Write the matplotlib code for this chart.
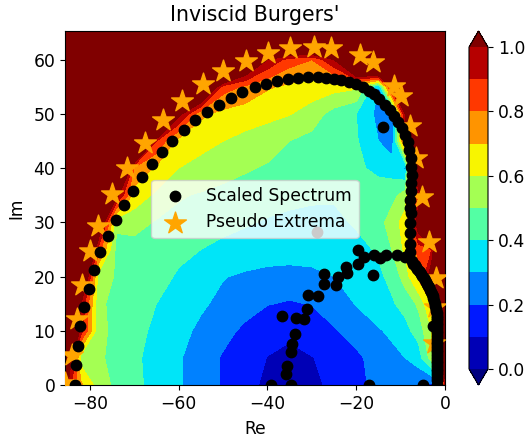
import matplotlib
matplotlib.use("Agg")
import matplotlib.pyplot as plt
import numpy as np

# field nodes
grid_re = [-86, -82, -78, -74, -70, -65, -60, -55, -50, -45, -40, -35, -30, -25, -20, -15, -12, -9, -6, -3, 0]
grid_im = [0, 5, 10, 15, 20, 25, 30, 35, 40, 45, 50, 55, 60, 66]
field = [
    [1.1, .72, .55, .475, .425, .365, .31, .25, .19, .13, .08, .07, .08, .12, .18, .22, .24, .23, .21, .17, .9],
    [1.4, .55, .52, .46, .42, .36, .31, .25, .19, .135, .098, .08, .097, .125, .18, .24, .27, .30, .35, .55, 1.3],
    [1.6, .95, .53, .47, .43, .38, .33, .28, .23, .18, .125, .115, .145, .19, .24, .29, .32, .37, .44, .6, 1.4],
    [1.7, 1.0, .52, .47, .44, .40, .36, .315, .275, .24, .205, .19, .205, .25, .305, .36, .39, .43, .52, .7, 1.5],
    [1.8, 1.3, .55, .49, .46, .43, .39, .345, .305, .285, .27, .265, .275, .30, .345, .385, .42, .55, .72, 1.1, 1.6],
    [1.9, 1.6, .85, .47, .46, .445, .42, .40, .375, .36, .35, .345, .345, .355, .375, .41, .5, .62, .85, .9, 1.7],
    [2, 1.8, 1.2, .52, .54, .49, .47, .45, .43, .41, .39, .375, .365, .38, .41, .46, .55, .64, 1.1, 1.5, 1.8],
    [2, 2, 1.9, 1.05, .66, .58, .51, .49, .47, .46, .445, .43, .42, .41, .41, .44, .46, .55, .9, 1.6, 1.9],
    [2, 2, 2, 1.8, .78, .68, .6, .57, .54, .51, .49, .47, .45, .43, .415, .38, .36, .28, 1.3, 2, 2],
    [2, 2, 2, 2, 1.9, .9, .66, .63, .6, .57, .54, .5, .47, .44, .41, .3, .23, .85, 2, 2, 2],
    [2, 2, 2, 2, 2, 2, 1.05, .72, .67, .65, .63, .605, .55, .46, .4, .27, .22, 1.0, 2, 2, 2],
    [2, 2, 2, 2, 2, 2, 2, 1.4, .85, .78, .71, .68, .66, .64, .62, .3, 1.0, 2, 2, 2, 2],
    [2, 2, 2, 2, 2, 2, 2, 2, 2, 1.3, 1.0, .85, .8, 1.0, 1.6, 2, 2, 2, 2, 2, 2],
    [2, 2, 2, 2, 2, 2, 2, 2, 2, 2, 2, 2, 2, 2, 2, 2, 2, 2, 2, 2, 2],
]

spectrum_re = [
    -83.3, -83.1, -82.7, -82.2, -81.4, -80.3, -79.1, -77.7, -76.0, -74.2,
    -72.4, -70.3, -68.2, -66.1, -63.8, -61.4, -58.9, -56.4, -53.7, -51.0, -48.3, -45.7, -42.9,
    -40.4, -37.8, -35.4, -33.1, -30.8, -28.7, -26.9, -25.1, -23.4, -21.7, -20.0, -18.5, -17.2,
    -15.9, -14.8, -13.6, -12.5, -11.6, -10.6, -9.7, -9.0, -8.4, -8.0, -7.6, -7.6, -7.5, -7.6,
    -7.7, -7.8, -7.8, -7.6, -7.8, -7.8, -7.8, -7.8,
    -9.1, -10.8, -13.3, -14.6, -16.1, -18.2, -19.7, -19.7, -22.4, -22.0, -16.3, -24.0, -24.6,
    -27.3, -27.3, -28.7, -30.9, -31.0, -31.7, -33.5, -36.7, -33.8, -34.5, -34.6, -35.5, -35.9,
    -34.8, -39.3, -17.2, -5.0, -2.8, -28.9, -13.9,
    -7.4, -7.1, -6.8, -6.5, -6.2, -5.9, -5.6, -5.3, -5.1, -4.8, -4.6, -4.3, -4.1, -3.8, -3.6, -3.3,
    -3.1, -2.9, -2.8, -2.6, -2.5, -2.3, -2.2, -2.1, -2.0, -1.9, -1.9, -1.8, -1.8, -1.7,
    -1.7, -1.7, -1.7, -1.7, -1.7, -1.7, -1.7, -1.7, -1.7, -1.7, -1.7, -1.7, -1.7, -1.7, -1.7, -1.7,
    -1.7, -1.7, -1.7, -1.7, -1.7, -1.7,
]
spectrum_im = [
    0, 3.6, 7.2, 10.8, 14.3, 17.8, 21.2, 24.5, 27.5, 30.4,
    33.2, 35.8, 38.4, 40.7, 43.0, 45.0, 47.0, 48.8, 50.4, 51.7, 53.0, 54.0, 55.0,
    55.5, 56.1, 56.5, 56.7, 56.8, 56.8, 56.7, 56.5, 56.2, 55.9, 55.5, 54.9, 54.3,
    53.6, 52.8, 51.7, 50.7, 49.7, 48.6, 47.4, 46.1, 44.8, 43.4, 41.8, 40.3, 38.7, 37.2,
    35.7, 34.1, 32.6, 31.7, 29.8, 28.0, 26.1, 24.6,
    23.6, 23.9, 24.0, 23.4, 24.0, 23.6, 24.9, 22.3, 21.8, 20.6, 20.2, 19.9, 18.5,
    20.5, 18.6, 16.5, 16.6, 14.1, 12.2, 12.4, 12.7, 9.4, 7.6, 6.0, 3.5, 2.1,
    0, 0, 0, 0, 10.9, 28.3, 47.6,
    22.8, 22.4, 22.1, 21.8, 21.4, 21.1, 20.8, 20.4, 20.1, 19.8, 19.4, 19.0, 18.7, 18.3, 18.0, 17.6,
    17.2, 16.8, 16.4, 16.0, 15.5, 15.0, 14.6, 14.1, 13.7, 13.2, 12.8, 12.3, 11.9, 11.4,
    11, 10.5, 10, 9.5, 9, 8.5, 8, 7.5, 7, 6.5, 6, 5.5, 5, 4.5, 4, 3.5,
    3, 2.5, 2, 1.5, 1, 0,
]

extrema_re = [
    -85.7, -84.0, -82.9, -81.8, -79.9, -78.1, -75.0, -71.6, -67.5, -63.6, -59.3, -54.6, -49.9, -44.8,
    -39.8, -35.0, -29.4, -25.7, -19.1, -16.3, -11.4, -9.9, -7.9, -6.5, -5.2, -3.5, -2.0, -2.2, -2.4,
]
extrema_im = [
    0.4, 5.5, 12.2, 18.5, 24.7, 29.4, 35.2, 40.0, 44.6, 48.8, 52.4, 55.5, 57.9, 59.8,
    61.2, 62.1, 62.4, 62.2, 60.8, 59.5, 55.2, 53.4, 47.8, 41.9, 34.7, 26.4, 19.7, 14.4, 7.7,
]

levels = np.linspace(0, 1, 11)
cbar_ticks = [0.0, 0.2, 0.4, 0.6, 0.8, 1.0]

plt.rcParams["font.size"] = 12.3

fig = plt.figure(figsize=(5.27, 4.41), dpi=100)
ax = fig.add_axes([65 / 527, 1 - 385 / 441, 380 / 527, 354 / 441])

cs = ax.contourf(grid_re, grid_im, field, levels=levels, cmap="jet", extend="both")
ax.scatter(extrema_re, extrema_im, marker="*", s=270, color="orange", label="Pseudo Extrema", zorder=3)
ax.scatter(spectrum_re, spectrum_im, s=56, color="black", label="Scaled Spectrum", zorder=4)

ax.set_xlim(-85.6, 0)
ax.set_ylim(0, 65.3)
ax.set_xticks([-80, -60, -40, -20, 0])
ax.set_yticks([0, 10, 20, 30, 40, 50, 60])
ax.set_xlabel("Re", labelpad=5)
ax.set_ylabel("Im", labelpad=6)
ax.set_title("Inviscid Burgers'", fontsize=14.8, pad=7)

handles, labels = ax.get_legend_handles_labels()
ax.legend(handles[::-1], labels[::-1], loc="center", bbox_to_anchor=(0.5, 0.497)).set_zorder(5)

# the arrows of the extended bar sit inside this box
cax = fig.add_axes([469 / 527, 1 - 385 / 441, 19 / 527, 354 / 441])
fig.colorbar(cs, cax=cax, ticks=cbar_ticks, format="%.1f")

plt.savefig("out.png", dpi=100)
